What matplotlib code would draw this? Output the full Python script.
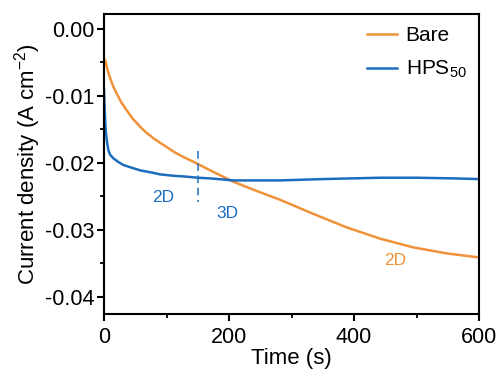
import matplotlib
matplotlib.use("Agg")
import matplotlib.pyplot as plt
from matplotlib.ticker import MultipleLocator, FormatStrFormatter

plt.rcParams["font.family"] = ["Liberation Sans", "DejaVu Sans"]
plt.rcParams["axes.unicode_minus"] = False
plt.rcParams["mathtext.fontset"] = "custom"
plt.rcParams["mathtext.rm"] = "Liberation Sans"
plt.rcParams["mathtext.default"] = "rm"

# values
bare_t = [0, 2, 5, 10, 15, 20, 28, 36, 46, 58, 68, 79, 90, 100, 113, 127, 147, 170, 207,
          245, 282, 335, 388, 442, 495, 549, 600]
bare_j = [-0.0044, -0.0047, -0.0059, -0.0074, -0.0086, -0.0096, -0.0110, -0.0121, -0.0134,
          -0.0146, -0.0155, -0.0163, -0.0170, -0.0176, -0.0184, -0.0191, -0.0200, -0.0211,
          -0.0228, -0.0242, -0.0255, -0.0276, -0.0296, -0.0313, -0.0326, -0.0335, -0.0341]

hps_t = [0, 1, 2, 3, 5, 7, 10, 15, 22, 31, 44, 58, 75, 90, 110, 127, 150, 170, 207, 250,
         282, 350, 442, 500, 560, 600]
hps_j = [-0.0091, -0.0118, -0.0140, -0.0155, -0.0170, -0.0181, -0.0188, -0.0193, -0.0198,
         -0.0203, -0.0207, -0.0211, -0.0214, -0.0217, -0.0219, -0.0220, -0.0222, -0.0223,
         -0.0226, -0.0226, -0.0226, -0.0224, -0.0222, -0.0222, -0.0223, -0.0224]

split_t = 150
split_j = [-0.0182, -0.0258]

labels = [("2D", 94, -0.0251, "hps"), ("3D", 197, -0.0275, "hps"), ("2D", 466, -0.0345, "bare")]

c_bare = "#F0923A"
c_hps = "#1C6DBE"

fig = plt.figure(figsize=(5.03, 3.71), dpi=100)
ax = fig.add_axes([0.2068, 0.1536, 0.7455, 0.8087])

ax.plot(bare_t, bare_j, color=c_bare, lw=1.8, label="Bare")
ax.plot(hps_t, hps_j, color=c_hps, lw=1.8, label="HPS$_{50}$")
ax.plot([split_t, split_t], split_j, color=c_hps, lw=1.1, ls=(0, (5, 3)))

for txt, x, y, which in labels:
    ax.text(x, y, txt, color=c_hps if which == "hps" else c_bare, fontsize=12.5,
            ha="center", va="center")

ax.set_xlim(0, 600)
ax.set_ylim(-0.04254, 0.00224)
ax.xaxis.set_major_locator(MultipleLocator(200))
ax.xaxis.set_minor_locator(MultipleLocator(100))
ax.yaxis.set_major_locator(MultipleLocator(0.01))
ax.yaxis.set_minor_locator(MultipleLocator(0.005))
ax.yaxis.set_major_formatter(FormatStrFormatter("%.2f"))

ax.tick_params(which="major", direction="out", length=5, width=1.5, labelsize=15.5)
ax.tick_params(axis="x", which="major", pad=4)
ax.tick_params(axis="y", which="major", pad=2)
ax.tick_params(which="minor", direction="out", length=3, width=1.3)
for s in ax.spines.values():
    s.set_linewidth(1.5)

ax.set_xlabel("Time (s)", fontsize=16, labelpad=0)
ax.set_ylabel("Current density (A cm$^{-2}$)", fontsize=16, labelpad=1)

ax.legend(loc="upper right", frameon=False, fontsize=15, handlelength=1.45,
          handletextpad=0.4, labelspacing=0.65, borderaxespad=0.2,
          bbox_to_anchor=(1.0, 1.0))

fig.savefig("out.png", dpi=100)
